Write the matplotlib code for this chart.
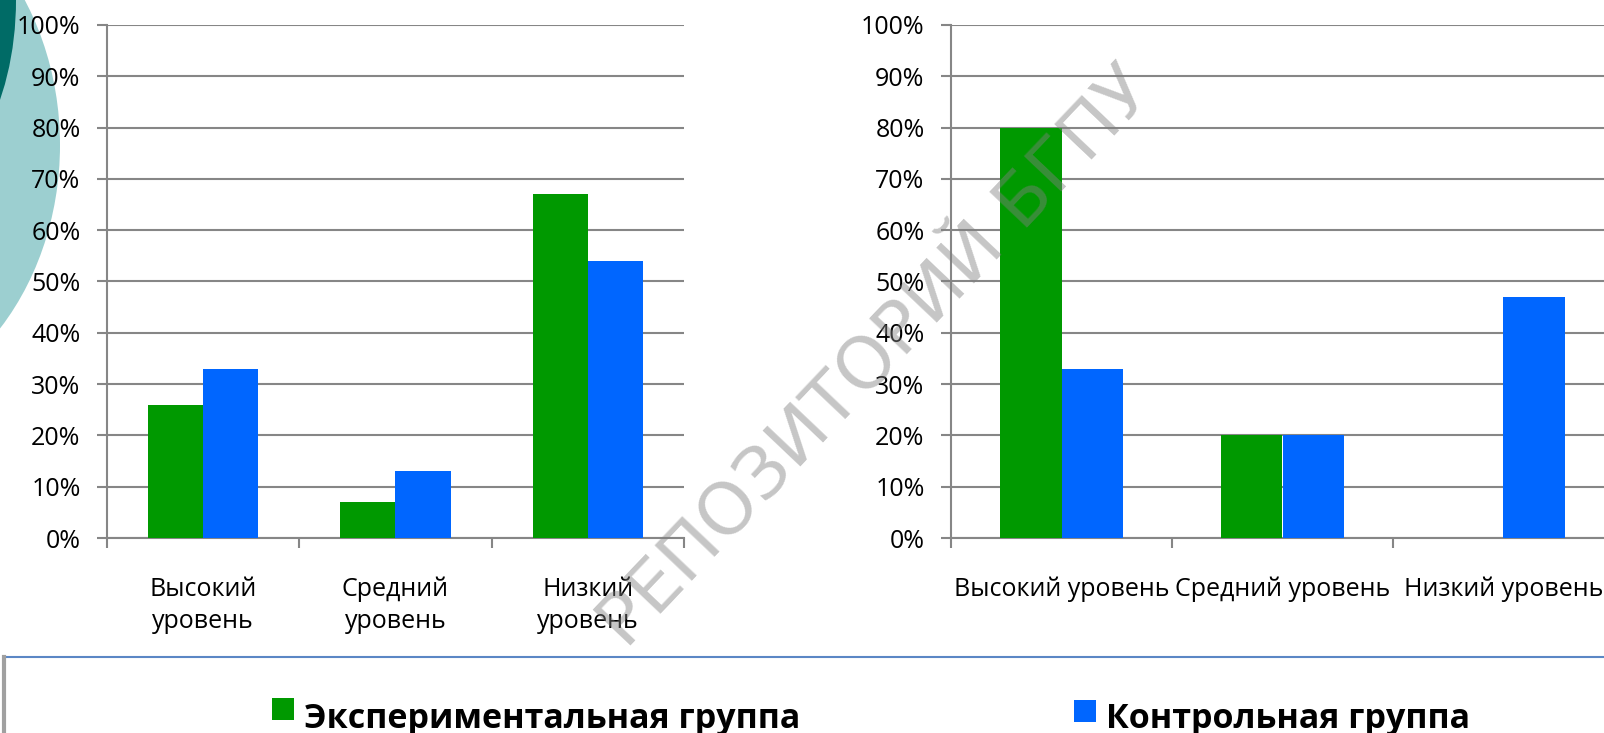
import numpy as np
import matplotlib
matplotlib.use("Agg")
import matplotlib.pyplot as plt
from matplotlib.patches import Ellipse, Rectangle

plt.rcParams['font.family'] = ['Open Sans', 'DejaVu Sans']

# data (percent)
cats_left = ["Высокий\nуровень", "Средний\nуровень", "Низкий\nуровень"]
cats_right = ["Высокий уровень", "Средний уровень", "Низкий уровень"]
exp_left = [26, 7, 67]
ctrl_left = [33, 13, 54]
exp_right = [80, 20, 0]
ctrl_right = [33, 20, 47]
series_names = ["Экспериментальная группа", "Контрольная группа"]
yticks = list(range(0, 101, 10))

GREEN = "#009900"
BLUE = "#0066FF"
GRID = "#868686"

W, H = 1604, 733
fig = plt.figure(figsize=(W / 100, H / 100), dpi=100)

# background decoration layer in pixel coords
bg = fig.add_axes([0, 0, 1, 1], zorder=0)
bg.set_xlim(0, W)
bg.set_ylim(H, 0)
bg.axis("off")
bg.add_patch(Ellipse((-170, 145), 460, 545, color="#9CCFD0", lw=0))
bg.add_patch(Ellipse((-100, 0), 232, 394, color="#006B66", lw=0))

# legend frame
bg.add_patch(Rectangle((4, 657), W + 20, 120, fill=False, ec="#5B87C5", lw=1.5))
bg.plot([4, 4], [657, H], color="#A0A0A0", lw=3)


def draw_chart(rect, labels, exp, ctrl, width):
    ax = fig.add_axes(rect, zorder=2)
    ax.patch.set_alpha(0)
    x = np.arange(len(labels))
    ax.bar(x - width / 2, exp, width, color=GREEN, zorder=3)
    ax.bar(x + width / 2, ctrl, width, color=BLUE, zorder=3)
    ax.set_xlim(-0.5, len(labels) - 0.5)
    ax.set_ylim(0, 100)
    ax.set_yticks(yticks)
    ax.set_yticklabels([f"{v}%" for v in yticks])
    ax.yaxis.grid(True, color=GRID, lw=1.5, zorder=0)
    ax.set_axisbelow(True)
    ax.set_xticks(x)
    ax.set_xticklabels(labels, linespacing=1.35)
    ax.set_xticks(np.arange(len(labels) + 1) - 0.5, minor=True)
    ax.tick_params(axis="x", which="major", length=0, pad=28, labelsize=18)
    ax.tick_params(axis="x", which="minor", length=7, width=1.5, color=GRID)
    ax.tick_params(axis="y", length=7, width=1.5, color=GRID, pad=12, labelsize=18)
    for s in ["top", "right"]:
        ax.spines[s].set_visible(False)
    for s in ["left", "bottom"]:
        ax.spines[s].set_color(GRID)
        ax.spines[s].set_linewidth(1.5)
    return ax


b = 1 - 538 / H
h = 513 / H
draw_chart([107 / W, b, 577 / W, h], cats_left, exp_left, ctrl_left, 0.286)
draw_chart([951 / W, b, 663 / W, h], cats_right, exp_right, ctrl_right, 0.28)

# legend and watermark layer
top = fig.add_axes([0, 0, 1, 1], zorder=5)
top.set_xlim(0, W)
top.set_ylim(H, 0)
top.axis("off")
top.add_patch(Rectangle((272, 698), 22, 22, color=GREEN, lw=0))
top.text(304, 728, series_names[0], fontsize=24.5, fontweight="bold", va="baseline")
top.add_patch(Rectangle((1074, 700), 22, 22, color=BLUE, lw=0))
top.text(1106, 728, series_names[1], fontsize=24.5, fontweight="bold", va="baseline")

top.text(877, 358, "РЕПОЗИТОРИЙ БГПУ", fontsize=52, color="#808080", alpha=0.45,
         rotation=46.5, ha="center", va="center", rotation_mode="anchor",
         family="DejaVu Sans")

fig.savefig("out.png", dpi=100)
